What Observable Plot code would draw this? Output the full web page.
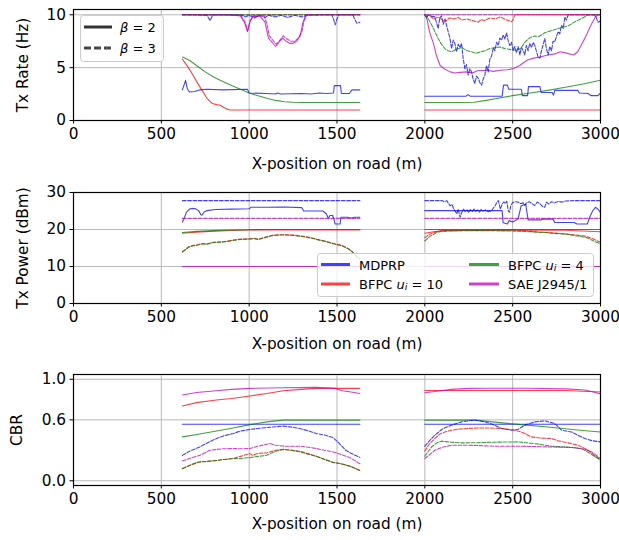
<!DOCTYPE html>
<html>
<head>
<meta charset="utf-8">
<script src="https://cdn.jsdelivr.net/npm/d3@7"></script>
<script src="https://cdn.jsdelivr.net/npm/@observablehq/plot@0.6"></script>
<style>
  body { margin: 0; background: #fff; }
  #wrap { position: relative; width: 619px; height: 540px; font-family: "DejaVu Sans", sans-serif; }
  #wrap svg.plot { display: block; }
  #overlay { position: absolute; left: 0; top: 0; pointer-events: none; }
</style>
</head>
<body>
<div id="wrap"></div>
<script>
// ---------- shared tick values / labels ----------
const xTicks = [0, 500, 1000, 1500, 2000, 2500, 3000];
const xLabel = "X-position on road (m)";
const rateTicks = [0, 5, 10];
const powerTicks = [0, 10, 20, 30];
const cbrTicks = [0.0, 0.6, 1.0];
const algorithms = ["MDPRP", "BFPC u=10", "BFPC u=4", "SAE J2945/1"];
const betas = [2, 3];

// ---------- Tx Rate (Hz) ----------
const rate_mdprp_b2 = [
  [[620,2.9],[630,3.4],[638,3.8],[648,3.0],[660,2.7],[690,2.75],[720,2.9],[760,2.95],[850,2.9],[990,2.95],[1000,2.6],[1100,2.55],[1150,2.5],[1160,2.6],[1180,2.5],[1300,2.55],[1350,2.5],[1400,2.6],[1440,2.55],[1480,2.6],[1485,3.3],[1520,3.3],[1525,2.55],[1570,2.55],[1585,2.9],[1630,2.9]],
  [[2000,2.3],[2235,2.3],[2245,2.45],[2260,2.3],[2440,2.3],[2448,3.35],[2470,3.35],[2478,2.95],[2550,2.95],[2555,2.35],[2585,2.35],[2590,3.2],[2655,3.2],[2662,2.65],[2725,2.65],[2732,2.4],[2740,2.85],[2870,2.85],[2880,2.6],[2930,2.55],[2945,2.35],[2985,2.35],[3000,2.6]]
];
const rate_mdprp_b3 = [
  [[620,10],[700,10],[760,9.95],[778,9.45],[790,9.9],[800,10],[950,10],[980,9.8],[1000,9.95],[1030,9.7],[1060,9.95],[1090,9.75],[1110,9.95],[1150,9.8],[1180,9.95],[1220,9.75],[1260,9.95],[1300,9.8],[1330,9.95],[1400,10],[1470,10],[1480,9.6],[1490,9.05],[1500,9.6],[1510,10],[1590,10],[1600,9.6],[1613,9.2],[1630,9.3]],
  [[2000,10],[2010,9.7],[2020,10],[2040,9.85],[2057,9.8],[2066,9.3],[2076,8.7],[2085,9.7],[2095,9.9],[2105,9.1],[2115,9.6],[2125,8.9],[2133,8.4],[2143,7.8],[2152,6.8],[2162,7.6],[2171,7.3],[2180,6.5],[2190,7.2],[2200,6.9],[2209,7.3],[2218,5.9],[2228,4.9],[2237,5.3],[2247,4.3],[2256,4.9],[2266,4.6],[2275,3.9],[2285,3.5],[2294,4.2],[2304,4.0],[2313,3.6],[2323,3.35],[2332,3.9],[2342,4.3],[2351,5.2],[2361,4.6],[2370,5.8],[2380,6.1],[2390,6.9],[2399,6.6],[2408,7.4],[2418,7.1],[2427,7.8],[2437,7.6],[2446,8.1],[2456,7.7],[2465,8.3],[2475,7.5],[2484,7.1],[2493,7.4],[2503,6.6],[2512,7.0],[2522,6.4],[2531,7.0],[2541,6.2],[2550,6.9],[2560,6.6],[2569,6.2],[2578,7.1],[2588,6.6],[2597,7.3],[2607,6.9],[2617,7.4],[2626,7.1],[2636,6.5],[2645,6.0],[2655,5.9],[2664,6.6],[2674,7.2],[2683,7.75],[2692,6.8],[2702,6.2],[2711,7.0],[2721,6.6],[2730,7.5],[2740,7.44],[2750,8.0],[2759,8.4],[2768,8.2],[2778,9.0],[2788,8.7],[2797,9.8],[2806,9.5],[2816,10],[2960,10],[2975,9.8],[2985,9.3],[3000,9.4]]
];
const rate_bfpc10_b2 = [
  [[620,5.8],[650,5.1],[680,4.3],[700,3.7],[730,2.9],[760,2.1],[790,1.6],[815,1.5],[835,1.45],[850,1.3],[870,1.1],[890,1.0],[1630,1.0]],
  [[2000,1.0],[3000,1.0]]
];
const rate_bfpc10_b3 = [
  [[620,10],[900,9.97],[1200,10],[1630,10]],
  [[2000,10],[2030,9.9],[2050,9.6],[2076,9.8],[2100,9.5],[2123,9.45],[2140,9.7],[2170,9.6],[2190,9.75],[2210,9.5],[2240,9.6],[2270,9.45],[2304,9.3],[2320,9.55],[2340,9.45],[2370,9.7],[2400,9.6],[2430,9.8],[2460,9.55],[2493,9.35],[2505,9.6],[2512,10],[3000,10]]
];
const rate_bfpc4_b2 = [
  [[620,6.0],[660,5.7],[700,5.2],[750,4.6],[800,4.1],[850,3.7],[900,3.3],[950,2.95],[1000,2.6],[1050,2.35],[1100,2.1],[1150,1.9],[1200,1.78],[1250,1.72],[1300,1.7],[1630,1.7]],
  [[2000,1.7],[2200,1.7],[2280,1.72],[2350,1.9],[2400,2.05],[2500,2.35],[2600,2.6],[2700,2.85],[2800,3.15],[2900,3.45],[3000,3.8]]
];
const rate_bfpc4_b3 = [
  [[620,10],[1630,10]],
  [[2000,10],[2020,9.6],[2040,9.0],[2060,8.3],[2076,7.75],[2095,7.2],[2114,6.8],[2133,6.6],[2152,6.5],[2180,6.75],[2209,6.9],[2240,6.6],[2266,6.5],[2290,6.35],[2320,6.5],[2342,6.6],[2370,6.8],[2399,6.9],[2430,6.95],[2456,6.8],[2490,6.7],[2520,6.65],[2545,6.8],[2569,7.4],[2600,7.85],[2626,8.0],[2650,7.95],[2683,8.3],[2720,8.5],[2759,8.7],[2790,8.85],[2816,8.95],[2850,9.3],[2892,9.65],[2930,10],[3000,10]]
];
const rate_sae_b2 = [
  [[620,10],[880,10],[950,9.9],[975,9.2],[990,8.4],[1005,9.4],[1020,9.8],[1060,9.9],[1090,9.3],[1110,7.8],[1130,7.4],[1150,7.0],[1170,7.4],[1190,7.8],[1210,7.5],[1230,7.3],[1250,7.3],[1270,7.5],[1290,8.0],[1305,9.2],[1320,9.9],[1335,10],[1630,10]],
  [[2000,10],[2010,9.8],[2019,9.0],[2030,8.2],[2049,7.3],[2065,6.2],[2087,5.2],[2110,4.9],[2144,4.6],[2170,4.5],[2200,4.55],[2240,4.6],[2270,4.5],[2300,4.7],[2350,4.75],[2390,4.65],[2429,4.76],[2470,4.8],[2505,4.92],[2540,5.2],[2581,5.7],[2620,5.9],[2657,6.0],[2700,6.2],[2740,6.3],[2771,6.5],[2800,6.4],[2847,6.2],[2870,6.5],[2885,6.96],[2905,7.6],[2923,8.2],[2945,9.0],[2971,9.8],[2985,10],[3000,10]]
];
const rate_sae_b3 = [
  [[620,10],[880,10],[950,9.95],[975,9.4],[992,8.5],[1008,9.5],[1025,9.9],[1085,9.9],[1100,9.2],[1115,8.0],[1135,7.6],[1155,7.2],[1175,7.6],[1195,8.0],[1215,7.7],[1240,7.5],[1260,7.5],[1280,7.8],[1300,8.4],[1312,9.4],[1328,10],[1630,10]],
  [[2000,10],[3000,10]]
];

// ---------- Tx Power (dBm) ----------
const pow_mdprp_b2 = [
  [[620,22.0],[630,23.0],[643,24.7],[660,25.5],[674,25.7],[695,25.6],[712,25.1],[725,24.0],[731,23.9],[745,24.8],[759,25.1],[807,25.4],[900,25.5],[1000,25.6],[1010,26.0],[1100,26.0],[1200,26.1],[1300,25.9],[1310,25.0],[1420,25.0],[1440,24.2],[1450,23.0],[1460,23.8],[1475,23.8],[1482,22.9],[1489,21.5],[1518,21.5],[1522,23.3],[1560,23.3],[1580,23.1],[1600,23.3],[1630,23.3]],
  [[2000,25.1],[2440,25.1],[2446,21.8],[2470,21.5],[2480,22.4],[2500,22.0],[2530,22.8],[2540,24.7],[2548,26.4],[2575,26.8],[2580,25.0],[2588,22.6],[2660,22.6],[2670,22.8],[2730,22.8],[2740,21.9],[2850,21.9],[2866,21.5],[2925,21.5],[2940,23.5],[2955,25.0],[2971,26.0],[2985,25.5],[3000,24.6]]
];
const pow_mdprp_b3 = [
  [[620,27.8],[1630,27.8]],
  [[2000,27.8],[2100,27.8],[2110,27.5],[2125,27.8],[2135,27.0],[2144,26.4],[2155,26.8],[2165,25.5],[2175,24.8],[2182,24.2],[2190,25.5],[2201,23.3],[2210,24.6],[2220,25.5],[2230,24.8],[2240,25.3],[2250,24.6],[2260,25.4],[2270,24.8],[2280,25.5],[2290,24.9],[2300,25.3],[2310,24.7],[2320,25.4],[2330,25.0],[2345,25.3],[2360,24.8],[2381,25.1],[2390,25.8],[2400,26.4],[2410,27.3],[2419,27.8],[2425,26.5],[2430,25.5],[2440,26.8],[2450,27.5],[2458,27.0],[2467,27.6],[2475,25.0],[2482,24.7],[2490,26.5],[2500,27.3],[2515,27.5],[2531,27.4],[2545,27.0],[2560,27.2],[2569,26.5],[2580,27.3],[2595,27.5],[2610,27.0],[2626,26.5],[2640,27.4],[2655,27.0],[2670,26.2],[2683,26.0],[2692,27.4],[2705,26.9],[2720,27.5],[2740,27.2],[2760,27.6],[2780,27.4],[2800,27.7],[2850,27.8],[3000,27.8]]
];
const pow_bfpc10_b2 = [
  [[620,19.0],[700,19.3],[800,19.55],[900,19.75],[1000,19.85],[1630,19.9]],
  [[2000,19.0],[2050,19.4],[2100,19.7],[2150,19.8],[2800,19.8],[2900,19.6],[3000,19.4]]
];
const pow_bfpc10_b3 = [
  [[620,14.0],[640,14.7],[655,15.3],[680,15.7],[700,15.8],[731,16.2],[760,16.1],[790,16.5],[807,16.6],[850,16.7],[880,16.9],[902,17.1],[950,17.4],[997,17.5],[1030,17.6],[1053,17.4],[1090,17.9],[1129,18.4],[1170,18.6],[1205,18.6],[1250,18.5],[1300,18.2],[1340,17.9],[1376,17.5],[1400,17.2],[1430,16.9],[1452,16.6],[1490,16.1],[1528,15.7],[1566,14.8],[1590,13.9],[1613,12.6],[1630,12.1]],
  [[2000,17.8],[2030,18.8],[2060,19.3],[2087,19.6],[2150,19.7],[2300,19.8],[2500,19.9],[2550,19.8],[2620,19.4],[2700,19.2],[2800,18.8],[2860,18.5],[2904,18.3],[2940,17.8],[2961,17.4],[3000,16.5]]
];
const pow_bfpc4_b2 = [
  [[620,19.2],[700,19.5],[800,19.7],[900,19.85],[1000,19.95],[1100,20],[1630,20]],
  [[2000,20],[3000,20]]
];
const pow_bfpc4_b3 = [
  [[620,13.9],[640,14.6],[655,15.2],[680,15.6],[700,15.7],[731,16.1],[760,16.0],[790,16.4],[807,16.5],[850,16.6],[880,16.8],[902,17.0],[950,17.3],[997,17.4],[1030,17.5],[1053,17.3],[1090,17.8],[1129,18.3],[1170,18.5],[1205,18.5],[1250,18.4],[1300,18.1],[1340,17.8],[1376,17.4],[1400,17.1],[1430,16.8],[1452,16.5],[1490,16.0],[1528,15.6],[1566,14.7],[1590,13.8],[1613,12.5],[1630,12.0]],
  [[2000,16.9],[2030,18.2],[2068,19.2],[2100,19.5],[2144,19.6],[2300,19.7],[2500,19.6],[2600,19.4],[2700,19.1],[2809,18.7],[2860,18.3],[2923,17.8],[2961,16.9],[3000,16.1]]
];
const pow_sae_b2 = [
  [[620,10],[1630,10]],
  [[2000,10],[3000,10]]
];
const pow_sae_b3 = [
  [[620,23],[1630,23]],
  [[2000,23],[3000,23]]
];

// ---------- CBR ----------
const cbr_mdprp_b2 = [
  [[620,0.557],[1630,0.557]],
  [[2000,0.557],[3000,0.557]]
];
const cbr_mdprp_b3 = [
  [[620,0.25],[660,0.29],[719,0.333],[770,0.38],[814,0.416],[860,0.445],[909,0.465],[950,0.49],[1004,0.505],[1050,0.515],[1099,0.524],[1150,0.532],[1194,0.538],[1240,0.528],[1288,0.515],[1340,0.49],[1383,0.465],[1430,0.45],[1478,0.425],[1500,0.39],[1528,0.34],[1550,0.30],[1580,0.27],[1630,0.23]],
  [[2000,0.34],[2030,0.40],[2057,0.449],[2100,0.51],[2152,0.548],[2209,0.58],[2250,0.59],[2285,0.597],[2330,0.585],[2380,0.56],[2437,0.515],[2493,0.498],[2530,0.505],[2569,0.548],[2626,0.58],[2683,0.59],[2740,0.564],[2778,0.498],[2835,0.48],[2870,0.45],[2911,0.416],[2950,0.395],[3000,0.383]]
];
const cbr_bfpc10_b2 = [
  [[620,0.736],[700,0.77],[814,0.795],[900,0.81],[1004,0.835],[1100,0.86],[1194,0.887],[1300,0.9],[1383,0.91],[1630,0.91]],
  [[2000,0.89],[2800,0.89],[3000,0.874]]
];
const cbr_bfpc10_b3 = [
  [[620,0.12],[660,0.15],[719,0.185],[760,0.19],[814,0.2],[860,0.21],[909,0.22],[950,0.24],[1004,0.267],[1020,0.25],[1050,0.27],[1099,0.274],[1150,0.30],[1194,0.307],[1240,0.30],[1290,0.29],[1340,0.265],[1383,0.241],[1430,0.21],[1478,0.18],[1500,0.175],[1540,0.16],[1580,0.14],[1630,0.10]],
  [[2000,0.293],[2025,0.36],[2057,0.416],[2085,0.46],[2114,0.48],[2152,0.498],[2200,0.51],[2247,0.515],[2300,0.52],[2360,0.52],[2437,0.515],[2512,0.498],[2550,0.48],[2607,0.432],[2660,0.42],[2721,0.416],[2759,0.393],[2816,0.373],[2873,0.35],[2930,0.30],[2965,0.25],[3000,0.2]]
];
const cbr_bfpc4_b2 = [
  [[620,0.432],[719,0.46],[814,0.49],[909,0.52],[1004,0.553],[1100,0.58],[1194,0.597],[1630,0.597]],
  [[2000,0.597],[2285,0.597],[2500,0.56],[2700,0.53],[2900,0.495],[3000,0.481]]
];
const cbr_bfpc4_b3 = [
  [[620,0.119],[660,0.15],[700,0.18],[719,0.185],[760,0.19],[814,0.2],[860,0.21],[909,0.218],[950,0.22],[1004,0.228],[1050,0.24],[1099,0.25],[1150,0.29],[1194,0.31],[1240,0.30],[1290,0.285],[1340,0.26],[1383,0.241],[1430,0.21],[1478,0.18],[1500,0.175],[1540,0.16],[1580,0.14],[1630,0.102]],
  [[2000,0.241],[2038,0.333],[2070,0.375],[2095,0.39],[2150,0.38],[2209,0.373],[2300,0.375],[2400,0.38],[2531,0.383],[2600,0.37],[2650,0.36],[2721,0.34],[2800,0.333],[2892,0.317],[2930,0.28],[2965,0.24],[3000,0.208]]
];
const cbr_sae_b2 = [
  [[620,0.845],[700,0.87],[814,0.887],[900,0.9],[1004,0.91],[1194,0.917],[1383,0.92],[1490,0.91],[1530,0.887],[1580,0.875],[1630,0.86]],
  [[2000,0.867],[2080,0.885],[2152,0.9],[2250,0.91],[2342,0.912],[2600,0.912],[2800,0.905],[2911,0.894],[2960,0.875],[3000,0.855]]
];
const cbr_sae_b3 = [
  [[620,0.194],[660,0.22],[719,0.25],[776,0.30],[850,0.315],[909,0.317],[960,0.315],[1004,0.317],[1050,0.34],[1118,0.366],[1150,0.35],[1200,0.34],[1300,0.34],[1383,0.317],[1430,0.30],[1478,0.284],[1530,0.255],[1573,0.228],[1630,0.168]],
  [[2000,0.218],[2057,0.3],[2100,0.33],[2152,0.35],[2250,0.35],[2400,0.34],[2531,0.34],[2721,0.333],[2850,0.327],[2911,0.31],[2950,0.284],[3000,0.218]]
];

// ---------- styling ----------
const colors = {"MDPRP": "#0000ff", "BFPC u=10": "#ff0000", "BFPC u=4": "#008000", "SAE J2945/1": "#bf00bf"};
const FONT = "DejaVu Sans, sans-serif";
const FS = 15.3;

function seriesMarks(seriesList) {
  const marks = [];
  for (const s of seriesList) {
    const rows = [];
    s.segs.forEach((seg, i) => seg.forEach(([x, y]) => rows.push({x, y, seg: i})));
    marks.push(Plot.line(rows, {
      x: "x", y: "y", z: "seg",
      stroke: colors[s.alg],
      strokeOpacity: 0.75,
      strokeWidth: 1.1,
      strokeDasharray: s.beta === 3 ? "3.7,1.6" : null,
      curve: "linear"
    }));
  }
  return marks;
}

function panel({series, yDomain, yTicks, yFormat, yLabel, yLabelOffset, marginTop, marginBottom}) {
  return Plot.plot({
    width: 619,
    height: 180,
    marginLeft: 73,
    marginRight: 19,
    marginTop,
    marginBottom,
    style: {fontFamily: FONT, fontSize: FS + "px", color: "#000", background: "transparent"},
    x: {domain: [0, 3000]},
    y: {domain: yDomain},
    marks: [
      Plot.gridX(xTicks, {stroke: "#b0b0b0", strokeOpacity: 1, strokeWidth: 0.9}),
      Plot.gridY(yTicks, {stroke: "#b0b0b0", strokeOpacity: 1, strokeWidth: 0.9}),
      ...seriesMarks(series),
      Plot.frame({stroke: "#000", strokeWidth: 1.2}),
      Plot.axisX({ticks: xTicks, tickSize: 3.5, tickPadding: 4, tickFormat: d3.format("d"), label: null}),
      Plot.text([xLabel], {frameAnchor: "bottom", dy: 164 - (180 - marginBottom), text: d => d,
                           lineAnchor: "middle", fontSize: FS, fill: "#000"}),
      Plot.axisY({ticks: yTicks, tickSize: 3.5, tickPadding: 4, tickFormat: yFormat,
                  label: yLabel, labelAnchor: "center", labelArrow: "none", labelOffset: yLabelOffset})
    ]
  });
}

function build(prefix) {
  const tbl = {
    rate: {MDPRP: [rate_mdprp_b2, rate_mdprp_b3], "BFPC u=10": [rate_bfpc10_b2, rate_bfpc10_b3], "BFPC u=4": [rate_bfpc4_b2, rate_bfpc4_b3], "SAE J2945/1": [rate_sae_b2, rate_sae_b3]},
    pow: {MDPRP: [pow_mdprp_b2, pow_mdprp_b3], "BFPC u=10": [pow_bfpc10_b2, pow_bfpc10_b3], "BFPC u=4": [pow_bfpc4_b2, pow_bfpc4_b3], "SAE J2945/1": [pow_sae_b2, pow_sae_b3]},
    cbr: {MDPRP: [cbr_mdprp_b2, cbr_mdprp_b3], "BFPC u=10": [cbr_bfpc10_b2, cbr_bfpc10_b3], "BFPC u=4": [cbr_bfpc4_b2, cbr_bfpc4_b3], "SAE J2945/1": [cbr_sae_b2, cbr_sae_b3]}
  }[prefix];
  const out = [];
  betas.forEach((b, bi) => algorithms.forEach(a => out.push({alg: a, beta: b, segs: tbl[a][bi]})));
  return out;
}

const wrap = document.getElementById("wrap");
const p1 = panel({series: build("rate"), yDomain: [0, 10.5], yTicks: rateTicks, yFormat: d3.format("d"), yLabel: "Tx Rate (Hz)", yLabelOffset: 56, marginTop: 9, marginBottom: 60});
const p2 = panel({series: build("pow"), yDomain: [0, 30], yTicks: powerTicks, yFormat: d3.format("d"), yLabel: "Tx Power (dBm)", yLabelOffset: 56, marginTop: 12, marginBottom: 57});
const p3 = panel({series: build("cbr"), yDomain: [-0.047, 1.047], yTicks: cbrTicks, yFormat: d3.format(".1f"), yLabel: "CBR", yLabelOffset: 62, marginTop: 14, marginBottom: 55});
[p1, p2, p3].forEach(p => { p.classList.add("plot"); wrap.appendChild(p); });

// ---------- legends (overlay) ----------
const NS = "http://www.w3.org/2000/svg";
const ov = document.createElementNS(NS, "svg");
ov.setAttribute("id", "overlay");
ov.setAttribute("width", 619);
ov.setAttribute("height", 540);
ov.style.fontFamily = FONT;
ov.style.fontSize = "13px";
wrap.appendChild(ov);

function el(tag, attrs, parent) {
  const e = document.createElementNS(NS, tag);
  for (const k in attrs) e.setAttribute(k, attrs[k]);
  (parent || ov).appendChild(e);
  return e;
}
function box(x, y, w, h) {
  el("rect", {x, y, width: w, height: h, rx: 3, fill: "#fff", "fill-opacity": 0.8, stroke: "#cccccc", "stroke-width": 1});
}
function sample(x1, x2, y, color, dash, opacity) {
  el("line", {x1, x2, y1: y, y2: y, stroke: color, "stroke-width": 3, "stroke-opacity": opacity,
              "stroke-dasharray": dash || "none"});
}
function text(x, y, parts) {
  const t = el("text", {x, y, "dominant-baseline": "central", fill: "#000"});
  for (const p of parts) {
    const s = el("tspan", {}, t);
    if (p.italic) s.setAttribute("font-style", "italic");
    if (p.sub) { s.setAttribute("baseline-shift", "-25%"); s.setAttribute("font-size", "9.5px"); }
    s.textContent = p.t;
  }
}

// beta legend (top panel)
box(80.5, 15.5, 83, 46);
sample(84, 112, 27, "#333", null, 1);
text(120, 27, [{t: "β", italic: true}, {t: " = " + betas[0]}]);
sample(84, 112, 48, "#333", "7,3", 0.9);
text(120, 48, [{t: "β", italic: true}, {t: " = " + betas[1]}]);

// algorithm legend (middle panel)
box(317.5, 253.5, 276, 43);
sample(321, 350, 264.5, colors["MDPRP"], null, 0.75);
text(359, 264.5, [{t: "MDPRP"}]);
sample(321, 350, 284, colors["BFPC u=10"], null, 0.75);
text(359, 284, [{t: "BFPC "}, {t: "u", italic: true}, {t: "i", italic: true, sub: true}, {t: " = 10"}]);
sample(469, 499, 264.5, colors["BFPC u=4"], null, 0.75);
text(508, 264.5, [{t: "BFPC "}, {t: "u", italic: true}, {t: "i", italic: true, sub: true}, {t: " = 4"}]);
sample(469, 499, 284, colors["SAE J2945/1"], null, 0.75);
text(508, 284, [{t: "SAE J2945/1"}]);
</script>
</body>
</html>
